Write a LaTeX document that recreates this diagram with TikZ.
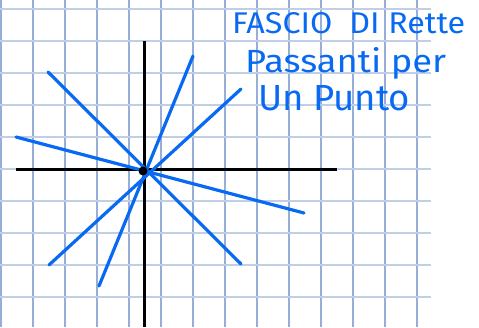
\documentclass[tikz,border=0pt]{standalone}
\usepackage{fontspec}
\setmainfont{Fira Sans}
\usepackage{graphicx}
\definecolor{penblue}{RGB}{8,106,242}
\definecolor{gridv}{RGB}{150,174,216}
\definecolor{gridh}{RGB}{192,206,232}
\begin{document}
\begin{tikzpicture}[x=1pt,y=-1pt,
  gridvline/.style={gridv,line width=1.1pt},
  gridhline/.style={gridh,line width=1.5pt},
  axisline/.style={black,line width=3pt},
  penline/.style={penblue,line width=3.2pt,line cap=round},
  handtext/.style={penblue,anchor=base west,inner sep=0pt}]
\useasboundingbox[fill=white] (0,0) rectangle (479,327);
% grid
\foreach \k in {0,...,13} {
  \draw[gridvline] ({1+32*\k},0) -- ({1+32*\k},327);
}
\foreach \k in {0,...,9} {
  \draw[gridhline] (0,{9+32*\k}) -- (431,{9+32*\k});
}
% axes
\coordinate (yt) at (144.5,41);
\coordinate (yb) at (144.5,327);
\coordinate (xl) at (16,169);
\coordinate (xr) at (337,169);
\draw[axisline] (yt) -- (yb);
\draw[axisline] (xl) -- (xr);
% pencil of lines
\coordinate (a1) at (48,72);   \coordinate (b1) at (241,264);
\coordinate (a2) at (193,56);  \coordinate (b2) at (99,286);
\coordinate (a3) at (241,89);  \coordinate (b3) at (49,265);
\coordinate (a4) at (16,137);  \coordinate (b4) at (304,213);
\draw[penline] (a1) -- (b1);
\draw[penline] (a2) -- (b2);
\draw[penline] (a3) -- (b3);
\draw[penline] (a4) -- (b4);
\node[circle,fill=black,inner sep=0pt,minimum size=9pt] (c) at (143,171) {};
% text
\node[handtext] (t1) at (232,33) {\resizebox{233pt}{21pt}{FASCIO\ \ DI Rette}};
\node[handtext] (t2) at (245,72) {\resizebox{201pt}{25pt}{Passanti per}};
\node[handtext] (t3) at (258,110) {\resizebox{152pt}{25pt}{Un Punto}};
\end{tikzpicture}
\end{document}
